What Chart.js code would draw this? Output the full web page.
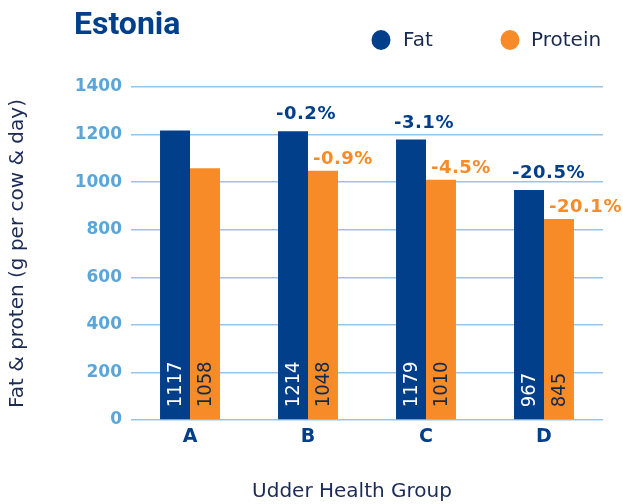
<!DOCTYPE html>
<html>
<head>
<meta charset="utf-8">
<script src="https://cdn.jsdelivr.net/npm/chart.js@4/dist/chart.umd.min.js"></script>
<style>
html,body{margin:0;padding:0;background:#fff;}
#wrap{position:relative;width:623px;height:504px;}
</style>
</head>
<body>
<div id="wrap"><canvas id="c" width="623" height="504"></canvas></div>
<script>
// ---- data ----
const chartTitle = 'Estonia';
const categories = ['A', 'B', 'C', 'D'];
const seriesNames = ['Fat', 'Protein'];
const fatValues = [1217, 1214, 1179, 967];
const proteinValues = [1058, 1048, 1010, 845];
const fatBarLabels = ['1117', '1214', '1179', '967'];
const proteinBarLabels = ['1058', '1048', '1010', '845'];
const fatChangeLabels = ['', '-0.2%', '-3.1%', '-20.5%'];
const proteinChangeLabels = ['', '-0.9%', '-4.5%', '-20.1%'];
const yAxisTitle = 'Fat & proten (g per cow & day)';
const xAxisTitle = 'Udder Health Group';

// ---- styles ----
const FAT = '#023f8a';
const PROT = '#f68b28';
const NAVY = '#1b2b56';
const TICKBLUE = '#5aa6d9';
const GRID = '#95c6e8';
const RB = "Roboto, sans-serif";
const DV = "'DejaVu Sans', sans-serif";
const DVC = "'DejaVu Sans Condensed', 'DejaVu Sans', sans-serif";

const innerLabels = [fatBarLabels, proteinBarLabels];
const changeLabels = [fatChangeLabels, proteinChangeLabels];

const decoPlugin = {
  id: 'deco',
  afterDatasetsDraw(chart) {
    const ctx = chart.ctx;
    chart.data.datasets.forEach((ds, di) => {
      const meta = chart.getDatasetMeta(di);
      meta.data.forEach((bar, i) => {
        // inner rotated value label
        ctx.save();
        ctx.translate(bar.x, bar.base - 12);
        ctx.rotate(-Math.PI / 2);
        ctx.font = "20px " + DVC;
        ctx.fillStyle = di === 0 ? '#ffffff' : '#13294b';
        ctx.textAlign = 'left';
        ctx.textBaseline = 'middle';
        ctx.fillText(innerLabels[di][i], 0, 1);
        ctx.restore();
        // change label
        const t = changeLabels[di][i];
        if (t) {
          ctx.save();
          ctx.font = "bold 18px " + DV;
          try { ctx.letterSpacing = '0.5px'; } catch (e) {}
          ctx.fillStyle = di === 0 ? FAT : PROT;
          ctx.textAlign = 'left';
          ctx.textBaseline = 'alphabetic';
          const left = bar.x - bar.width / 2;
          if (di === 0) ctx.fillText(t, left - 2, bar.y - 12);
          else ctx.fillText(t, left + 5, bar.y - 7);
          ctx.restore();
        }
      });
    });
  },
  afterDraw(chart) {
    const ctx = chart.ctx;
    ctx.save();
    // title
    ctx.font = "bold 32px " + RB;
    ctx.fillStyle = FAT;
    ctx.textAlign = 'left';
    ctx.textBaseline = 'alphabetic';
    ctx.fillText(chartTitle, 74, 34);
    // legend
    const items = [{x: 381, tx: 403}, {x: 510, tx: 531}];
    chart.data.datasets.forEach((ds, di) => {
      ctx.beginPath();
      ctx.fillStyle = ds.backgroundColor;
      ctx.ellipse(items[di].x, 40, 9.5, 10, 0, 0, Math.PI * 2);
      ctx.fill();
      ctx.font = "20px " + DV;
      ctx.fillStyle = '#1a2a4e';
      ctx.textBaseline = 'middle';
      ctx.fillText(ds.label, items[di].tx, 41);
    });
    // x axis title
    ctx.font = "20px " + DV;
    ctx.fillStyle = NAVY;
    ctx.textAlign = 'center';
    ctx.textBaseline = 'alphabetic';
    ctx.fillText(xAxisTitle, 352, 497);
    ctx.restore();
  }
};

new Chart(document.getElementById('c'), {
  type: 'bar',
  data: {
    labels: categories,
    datasets: [
      { label: seriesNames[0], data: fatValues, backgroundColor: FAT },
      { label: seriesNames[1], data: proteinValues, backgroundColor: PROT }
    ]
  },
  options: {
    responsive: false,
    devicePixelRatio: 1,
    animation: false,
    layout: { padding: { top: 87, right: 20, left: 0, bottom: 0 } },
    plugins: { legend: { display: false }, title: { display: false }, tooltip: { enabled: false } },
    datasets: { bar: { categoryPercentage: 0.508, barPercentage: 1.0, borderWidth: 0 } },
    scales: {
      x: {
        grid: { display: false, drawTicks: false },
        border: { display: false },
        ticks: { color: FAT, font: { family: DV, size: 19, weight: 'bold' }, padding: 6 },
        afterFit(s) { s.height = 84; }
      },
      y: {
        min: 0, max: 1400,
        ticks: { stepSize: 200, color: TICKBLUE, font: { family: DV, size: 17, weight: 'bold' }, padding: 9,
                 callback: (v) => String(v) },
        grid: { color: GRID, lineWidth: 1.5, drawTicks: false },
        border: { display: false },
        title: { display: true, text: yAxisTitle, color: NAVY, font: { family: DV, size: 20 }, padding: { top: 6, bottom: 0 } },
        afterFit(s) { s.width = 131; }
      }
    }
  },
  plugins: [decoPlugin]
});
</script>
</body>
</html>
